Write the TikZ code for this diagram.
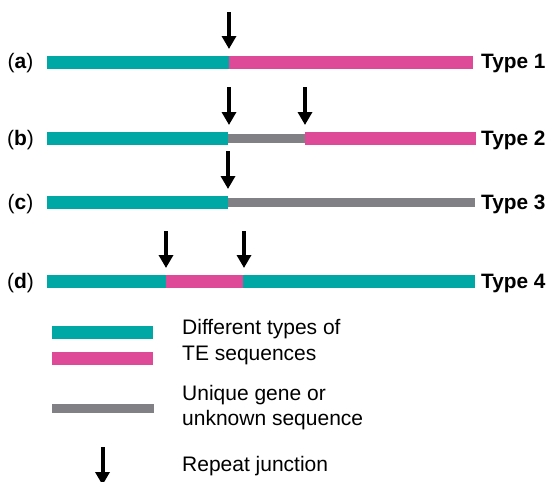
\documentclass[tikz,border=0pt]{standalone}
\usepackage{fontspec}
\setmainfont{Liberation Sans}
\usetikzlibrary{arrows.meta}
\definecolor{teTeal}{RGB}{0,168,165}
\definecolor{tePink}{RGB}{222,73,152}
\definecolor{uGray}{RGB}{128,128,133}
\begin{document}
\begin{tikzpicture}[x=1pt,y=-1pt,
  junc/.style={line width=4pt, -{Triangle[width=14pt,length=13pt]}},
  rowlab/.style={font=\fontsize{21}{24}\selectfont, anchor=base, inner sep=0},
  typelab/.style={font=\fontsize{20.8}{24}\selectfont\bfseries, anchor=base west, inner sep=0},
  legtext/.style={font=\fontsize{21}{25.5}\selectfont, align=left, anchor=west, inner sep=0}]
\useasboundingbox (0,0) rectangle (549,482);

% row (a)
\fill[teTeal] (47,56) rectangle (229,69);
\fill[tePink] (229,56) rectangle (473,69);
\coordinate (a1t) at (229,12); \coordinate (a1) at (229,49);
\draw[junc] (a1t) -- (a1);
\node[rowlab] (la) at (20.5,68.5) {(\textbf{a})};
\node[typelab] (ta) at (481,68.5) {Type 1};

% row (b)
\fill[teTeal] (47,132) rectangle (228,145);
\fill[uGray] (228,133.5) rectangle (305,143);
\fill[tePink] (305,132) rectangle (476,145);
\coordinate (b1t) at (229,87); \coordinate (b1) at (229,125);
\coordinate (b2t) at (305,87); \coordinate (b2) at (305,125);
\draw[junc] (b1t) -- (b1);
\draw[junc] (b2t) -- (b2);
\node[rowlab] (lb) at (20.5,145) {(\textbf{b})};
\node[typelab] (tb) at (481,145) {Type 2};

% row (c)
\fill[teTeal] (47,196) rectangle (228,209);
\fill[uGray] (228,197.5) rectangle (475,207);
\coordinate (c1t) at (228,151); \coordinate (c1) at (228,189);
\draw[junc] (c1t) -- (c1);
\node[rowlab] (lc) at (20.5,209) {(\textbf{c})};
\node[typelab] (tc) at (481,209) {Type 3};

% row (d)
\fill[teTeal] (47,275) rectangle (166,288);
\fill[tePink] (166,275) rectangle (243,288);
\fill[teTeal] (243,275) rectangle (475,288);
\coordinate (d1t) at (166,231); \coordinate (d1) at (166,268);
\coordinate (d2t) at (244,231); \coordinate (d2) at (244,268);
\draw[junc] (d1t) -- (d1);
\draw[junc] (d2t) -- (d2);
\node[rowlab] (ld) at (20.5,288) {(\textbf{d})};
\node[typelab] (td) at (481,288) {Type 4};

% legend
\fill[teTeal] (52,326) rectangle (153,339);
\fill[tePink] (52,352) rectangle (153,364.5);
\fill[uGray] (52,404) rectangle (154,413);
\coordinate (kt) at (102.5,447); \coordinate (k) at (102.5,485);
\draw[junc] (kt) -- (k);
\node[legtext] (g1) at (182,342.3) {Different types of\\TE sequences};
\node[legtext] (g2) at (182,407.5) {Unique gene or\\unknown sequence};
\node[legtext, anchor=base west] (g3) at (182,471) {Repeat junction};
\end{tikzpicture}
\end{document}
